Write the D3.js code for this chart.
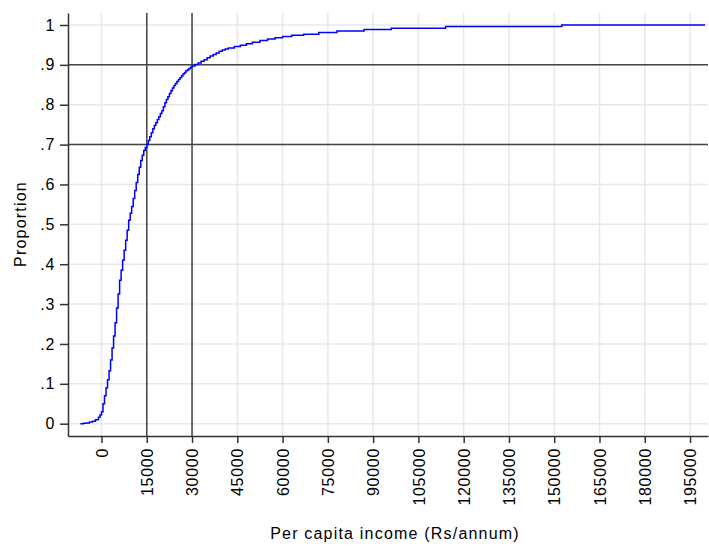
<!DOCTYPE html>
<html><head><meta charset="utf-8">
<script src="https://cdn.jsdelivr.net/npm/d3@7"></script>
<style>
body{margin:0;background:#fff}
text{font-family:"Liberation Sans",Arial,sans-serif;fill:#000}
</style>
</head><body>
<svg id="c" width="709" height="546"></svg>
<script>
// Cumulative distribution (income in Rs/annum, proportion)
const income = [-7000,-6000,-5000,-4000,-3000,-2000,-1000,-500,0,500,1000,1500,2000,2500,3000,3500,4000,4500,5000,5500,6000,6500,7000,7500,8000,8500,9000,9500,10000,10500,11000,11500,12000,12500,13000,13500,14000,14500,15000,15500,16000,16500,17000,17500,18000,18500,19000,19500,20000,20500,21000,21500,22000,22500,23000,23500,24000,24500,25000,25500,26000,26500,27000,27500,28000,28500,29000,29500,30000,31000,32000,33000,34000,35000,36000,37000,38000,39000,40000,41000,42000,44000,46000,48000,50000,52500,55000,57500,60000,63000,67000,72000,78000,87000,96000,114000,152500,200000];
const proportion = [0,0.001,0.002,0.004,0.006,0.010,0.016,0.022,0.030,0.050,0.070,0.090,0.110,0.133,0.160,0.190,0.220,0.253,0.290,0.325,0.360,0.385,0.410,0.435,0.460,0.485,0.510,0.528,0.545,0.565,0.585,0.605,0.625,0.643,0.660,0.673,0.685,0.693,0.700,0.710,0.720,0.730,0.740,0.748,0.755,0.763,0.770,0.778,0.785,0.795,0.805,0.813,0.820,0.828,0.835,0.842,0.848,0.853,0.858,0.863,0.868,0.873,0.877,0.881,0.885,0.888,0.891,0.894,0.897,0.901,0.905,0.909,0.913,0.918,0.922,0.926,0.930,0.934,0.937,0.940,0.942,0.946,0.949,0.953,0.957,0.961,0.965,0.968,0.971,0.974,0.977,0.981,0.985,0.989,0.992,0.996,1.000,1.000];
const xTicks = [0,15000,30000,45000,60000,75000,90000,105000,120000,135000,150000,165000,180000,195000];
const yTicks = [0,0.1,0.2,0.3,0.4,0.5,0.6,0.7,0.8,0.9,1];
const yTickLabels = ["0",".1",".2",".3",".4",".5",".6",".7",".8",".9","1"];
const refX = [15000,30000];
const refY = [0.7,0.9];
const xTitle = "Per capita income (Rs/annum)";
const yTitle = "Proportion";

const data = income.map((v,i)=>({x:v,y:proportion[i]}));
const L=68,R=708,T=13,B=436;
const svg = d3.select("#c");
const x = d3.scaleLinear().domain([-11100,200950]).range([L,R]);
const y = d3.scaleLinear().domain([-0.0309,1.0301]).range([B,T]);

// grid
const g = svg.append("g");
g.selectAll(".gx").data(xTicks).join("line")
  .attr("x1",d=>x(d)).attr("x2",d=>x(d)).attr("y1",T).attr("y2",B)
  .attr("stroke","#e8e8e8").attr("stroke-width",1.5);
g.selectAll(".gy").data(yTicks).join("line")
  .attr("y1",d=>y(d)).attr("y2",d=>y(d)).attr("x1",L).attr("x2",R)
  .attr("stroke","#e8e8e8").attr("stroke-width",1.5);

// reference lines
svg.append("g").selectAll("line").data(refX).join("line")
  .attr("x1",d=>x(d)).attr("x2",d=>x(d)).attr("y1",T).attr("y2",B)
  .attr("stroke","#444").attr("stroke-width",1.5);
svg.append("g").selectAll("line").data(refY).join("line")
  .attr("y1",d=>y(d)).attr("y2",d=>y(d)).attr("x1",L).attr("x2",R)
  .attr("stroke","#444").attr("stroke-width",1.5);

// curve
svg.append("path").datum(data)
  .attr("fill","none").attr("stroke","#0000ff").attr("stroke-width",1.5)
  .attr("d",d3.line().x(d=>x(d.x)).y(d=>y(d.y)).curve(d3.curveStepAfter));

// axes
const ax = svg.append("g").attr("transform",`translate(0,${B})`)
  .call(d3.axisBottom(x).tickValues(xTicks).tickFormat(d3.format("d")).tickSize(7).tickSizeOuter(0));
ax.selectAll("text")
  .attr("transform","rotate(-90)").attr("x",-12).attr("y",0).attr("dy","0.35em")
  .style("text-anchor","end").style("font-size","16px").style("letter-spacing","0.7px");
const ay = svg.append("g").attr("transform",`translate(${L},0)`)
  .call(d3.axisLeft(y).tickValues(yTicks).tickFormat((d,i)=>yTickLabels[i]).tickSize(8).tickPadding(5).tickSizeOuter(0));
ay.selectAll("text").style("font-size","16px").style("letter-spacing","0.7px");
[ax,ay].forEach(a=>{
  a.select(".domain").attr("stroke","#333").attr("stroke-width",1.5);
  a.selectAll(".tick line").attr("stroke","#333").attr("stroke-width",1.5);
  a.attr("font-family",null);
});

// titles
svg.append("text").attr("x",395).attr("y",539).attr("text-anchor","middle")
  .style("font-size","16px").style("letter-spacing","1.2px").text(xTitle);
svg.append("text").attr("transform","translate(26,224) rotate(-90)").attr("text-anchor","middle")
  .style("font-size","16px").style("letter-spacing","1.2px").text(yTitle);
</script>
</body></html>
